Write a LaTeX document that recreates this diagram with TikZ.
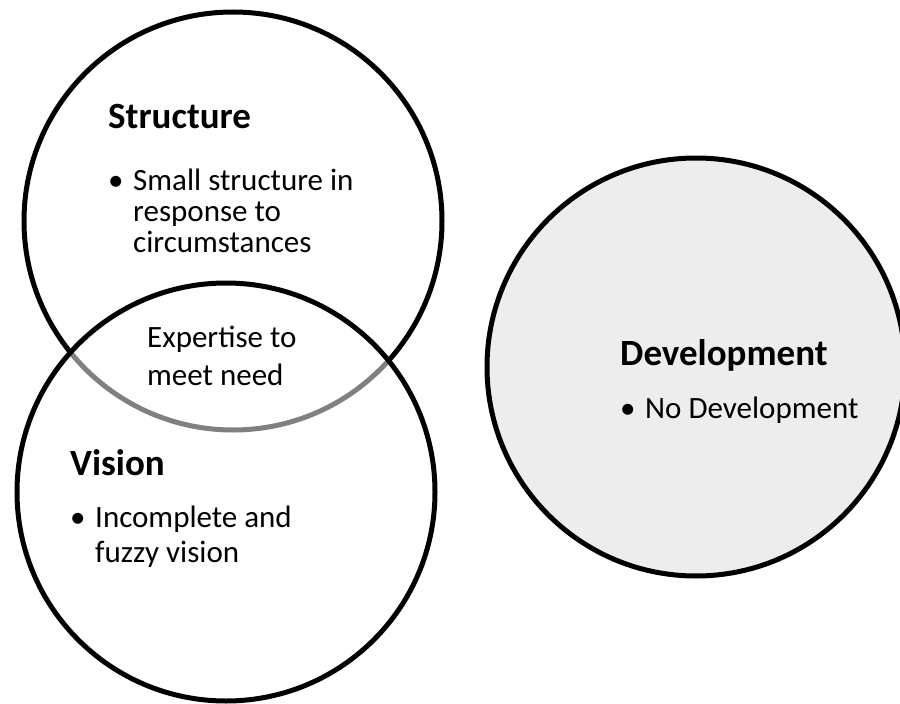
\documentclass[tikz,border=0pt]{standalone}
\usepackage{fontspec}
\setmainfont{Carlito}
\usepackage{tikz}
\definecolor{devfill}{HTML}{EDEDED}

\begin{document}
\begin{tikzpicture}[x=1pt, y=-1pt,
    ring/.style={circle, draw=black, line width=5pt, minimum size=418pt, inner sep=0pt},
    head/.style={font=\fontsize{37}{44}\selectfont\bfseries, anchor=base west, inner sep=0pt},
    item/.style={font=\fontsize{31}{#1}\selectfont, anchor=base west, align=left, inner sep=0pt},
    item/.default=36,
    dot/.style={font=\fontsize{31}{36}\selectfont, anchor=base west, inner sep=0pt}
]
\clip (0,0) rectangle (900,704);

% circles
\node[ring, fill=white] (structure) at (233,221) {};
\node[ring, fill=white, fill opacity=0.5] (vision) at (226,492) {};
\node[ring, fill=devfill] (development) at (696,367) {};

% structure (base anchor sits on the last line)
\node[head] (structure title) at (108,128) {Structure};
\node[dot] (structure dot) at (108,190) {•};
\node[item=31] (structure text) at (133,252) {Small structure in\\response to\\circumstances};

% overlap
\node[item=38] (overlap text) at (147,385) {Expertise to\\meet need};

% vision
\node[head] (vision title) at (70,475) {Vision};
\node[dot] (vision dot) at (70,527) {•};
\node[item=35] (vision text) at (95,562) {Incomplete and\\fuzzy vision};

% development
\node[head] (development title) at (620,365) {Development};
\node[dot] (development dot) at (620,418) {•};
\node[item] (development text) at (645,418) {No Development};

\end{tikzpicture}
\end{document}
